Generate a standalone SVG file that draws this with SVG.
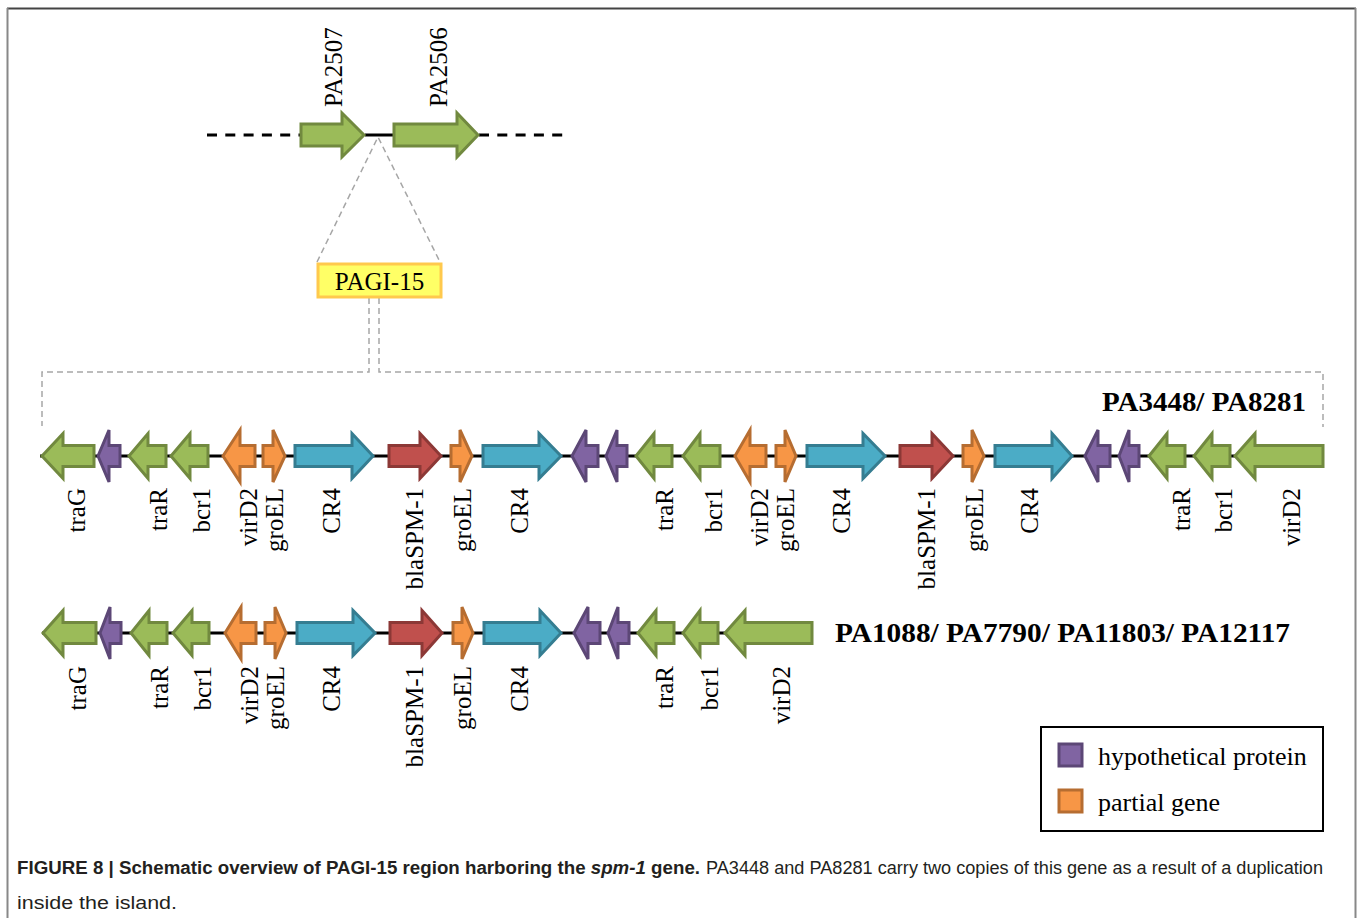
<svg xmlns="http://www.w3.org/2000/svg" width="1358" height="918" viewBox="0 0 1358 918">
<style>
.g{fill:#9BBB59;stroke:#71893F;stroke-width:3;stroke-linejoin:miter}
.p{fill:#8064A2;stroke:#5C4776;stroke-width:3}
.o{fill:#F79646;stroke:#B66D31;stroke-width:3}
.t{fill:#4BACC6;stroke:#357D91;stroke-width:3}
.r{fill:#C0504D;stroke:#8C3836;stroke-width:3}
.lab{font-family:"Liberation Serif","Times New Roman",serif;font-size:25px;fill:#000}
.leg{font-family:"Liberation Serif","Times New Roman",serif;font-size:26px;fill:#000}
.ttl{font-family:"Liberation Serif","Times New Roman",serif;font-size:28px;font-weight:bold;fill:#000}
.bb{stroke:#000;stroke-width:3;fill:none}
.gd{stroke:#A6A6A6;stroke-width:1.5;fill:none;stroke-dasharray:6 4}
.cap{font-family:"Liberation Sans",Arial,sans-serif;font-size:17.5px;fill:#231F20}
</style>
<rect width="1358" height="918" fill="#fff"/>
<g id="frame">
<line x1="7" y1="8.5" x2="1356" y2="8.5" stroke="#444" stroke-width="2"/>
<line x1="7.5" y1="8" x2="7.5" y2="918" stroke="#888" stroke-width="2"/>
<line x1="1355.5" y1="8" x2="1355.5" y2="918" stroke="#888" stroke-width="2"/>
</g>
<g id="connectors">
<line x1="207" y1="135" x2="300" y2="135" class="bb" stroke-dasharray="10 8.3"/>
<line x1="365" y1="135" x2="393" y2="135" class="bb"/>
<line x1="479" y1="135" x2="563" y2="135" class="bb" stroke-dasharray="10 8.3"/>
<polyline class="gd" points="317,262 378,137 440,262"/>
<polyline class="gd" points="369,298 369,372 42,372 42,426"/>
<polyline class="gd" points="379,298 379,372 1323,372 1323,427"/>
<line x1="40" y1="456" x2="1324" y2="456" class="bb"/>
<line x1="42" y1="633" x2="812" y2="633" class="bb"/>
</g>
<g id="top-genes">
<g id="PA2507"><polygon class="g" points="301,124 342,124 342,113 364,135 342,157 342,146 301,146"/>
<text class="lab" transform="translate(342,107) rotate(-90)">PA2507</text></g>
<g id="PA2506"><polygon class="g" points="394,124 457,124 457,113 478,135 457,157 457,146 394,146"/>
<text class="lab" transform="translate(447,107) rotate(-90)">PA2506</text></g>
</g>
<g id="PAGI-15">
<rect x="318" y="264" width="123" height="33" fill="#FFFF66" stroke="#FFC94D" stroke-width="3"/>
<text x="379.5" y="290" text-anchor="middle" class="lab">PAGI-15</text>
</g>
<g id="row1">
<text class="ttl" x="1102" y="411" textLength="204" lengthAdjust="spacingAndGlyphs">PA3448/ PA8281</text>
<g id="r1-traG"><polygon class="g" points="42,456 63,433.5 63,445.5 94,445.5 94,466.5 63,466.5 63,478.5"/><text class="lab" text-anchor="end" transform="translate(85,488) rotate(-90)">traG</text></g>
<g id="r1-hyp1"><polygon class="p" points="98,456 109,430 109,445.5 120,445.5 120,466.5 109,466.5 109,482"/></g>
<g id="r1-traR"><polygon class="g" points="129,456 148,433.5 148,445.5 166,445.5 166,466.5 148,466.5 148,478.5"/><text class="lab" text-anchor="end" transform="translate(167,488) rotate(-90)">traR</text></g>
<g id="r1-bcr1"><polygon class="g" points="171,456 190,433.5 190,445.5 208,445.5 208,466.5 190,466.5 190,478.5"/><text class="lab" text-anchor="end" transform="translate(210,488) rotate(-90)">bcr1</text></g>
<g id="r1-virD2"><polygon class="o" points="223,456 240,430 240,445.5 255,445.5 255,466.5 240,466.5 240,482"/><text class="lab" text-anchor="end" transform="translate(257,488) rotate(-90)">virD2</text></g>
<g id="r1-groEL"><polygon class="o" points="263,445.5 273,445.5 273,430 285,456 273,482 273,466.5 263,466.5"/><text class="lab" text-anchor="end" transform="translate(283,488) rotate(-90)">groEL</text></g>
<g id="r1-CR4"><polygon class="t" points="295,445.5 352,445.5 352,433.5 373,456 352,478.5 352,466.5 295,466.5"/><text class="lab" text-anchor="end" transform="translate(340,488) rotate(-90)">CR4</text></g>
<g id="r1-blaSPM-1"><polygon class="r" points="389,445.5 420,445.5 420,433.5 441,456 420,478.5 420,466.5 389,466.5"/><text class="lab" text-anchor="end" transform="translate(423,488) rotate(-90)">blaSPM-1</text></g>
<g id="r1-groEL2"><polygon class="o" points="451,445.5 460,445.5 460,430 472,456 460,482 460,466.5 451,466.5"/><text class="lab" text-anchor="end" transform="translate(471,488) rotate(-90)">groEL</text></g>
<g id="r1-CR4b"><polygon class="t" points="483,445.5 539,445.5 539,433.5 561,456 539,478.5 539,466.5 483,466.5"/><text class="lab" text-anchor="end" transform="translate(528,488) rotate(-90)">CR4</text></g>
<g id="r1-hyp2"><polygon class="p" points="572,456 586,430 586,445.5 598,445.5 598,466.5 586,466.5 586,482"/></g>
<g id="r1-hyp3"><polygon class="p" points="606,456 617,430 617,445.5 627,445.5 627,466.5 617,466.5 617,482"/></g>
<g id="r1-traR2"><polygon class="g" points="636,456 654,433.5 654,445.5 672,445.5 672,466.5 654,466.5 654,478.5"/><text class="lab" text-anchor="end" transform="translate(673,488) rotate(-90)">traR</text></g>
<g id="r1-bcr1b"><polygon class="g" points="683,456 700,433.5 700,445.5 720,445.5 720,466.5 700,466.5 700,478.5"/><text class="lab" text-anchor="end" transform="translate(722,488) rotate(-90)">bcr1</text></g>
<g id="r1-virD2b"><polygon class="o" points="735,456 750,430 750,445.5 766,445.5 766,466.5 750,466.5 750,482"/><text class="lab" text-anchor="end" transform="translate(768,488) rotate(-90)">virD2</text></g>
<g id="r1-groEL3"><polygon class="o" points="776,445.5 785,445.5 785,430 796,456 785,482 785,466.5 776,466.5"/><text class="lab" text-anchor="end" transform="translate(794,488) rotate(-90)">groEL</text></g>
<g id="r1-CR4c"><polygon class="t" points="807,445.5 863,445.5 863,433.5 885,456 863,478.5 863,466.5 807,466.5"/><text class="lab" text-anchor="end" transform="translate(850,488) rotate(-90)">CR4</text></g>
<g id="r1-blaSPM-1b"><polygon class="r" points="900,445.5 932,445.5 932,433.5 953,456 932,478.5 932,466.5 900,466.5"/><text class="lab" text-anchor="end" transform="translate(935,488) rotate(-90)">blaSPM-1</text></g>
<g id="r1-groEL4"><polygon class="o" points="963,445.5 972,445.5 972,430 984,456 972,482 972,466.5 963,466.5"/><text class="lab" text-anchor="end" transform="translate(983,488) rotate(-90)">groEL</text></g>
<g id="r1-CR4d"><polygon class="t" points="995,445.5 1052,445.5 1052,433.5 1072,456 1052,478.5 1052,466.5 995,466.5"/><text class="lab" text-anchor="end" transform="translate(1038,488) rotate(-90)">CR4</text></g>
<g id="r1-hyp4"><polygon class="p" points="1085,456 1098,430 1098,445.5 1110,445.5 1110,466.5 1098,466.5 1098,482"/></g>
<g id="r1-hyp5"><polygon class="p" points="1119,456 1129,430 1129,445.5 1139,445.5 1139,466.5 1129,466.5 1129,482"/></g>
<g id="r1-traR3"><polygon class="g" points="1149,456 1167,433.5 1167,445.5 1185,445.5 1185,466.5 1167,466.5 1167,478.5"/><text class="lab" text-anchor="end" transform="translate(1190,488) rotate(-90)">traR</text></g>
<g id="r1-bcr1c"><polygon class="g" points="1194,456 1212,433.5 1212,445.5 1230,445.5 1230,466.5 1212,466.5 1212,478.5"/><text class="lab" text-anchor="end" transform="translate(1232,488) rotate(-90)">bcr1</text></g>
<g id="r1-virD2c"><polygon class="g" points="1235,456 1255,433.5 1255,445.5 1323,445.5 1323,466.5 1255,466.5 1255,478.5"/><text class="lab" text-anchor="end" transform="translate(1300,488) rotate(-90)">virD2</text></g>
</g>
<g id="row2">
<text class="ttl" x="835" y="642" textLength="455" lengthAdjust="spacingAndGlyphs">PA1088/ PA7790/ PA11803/ PA12117</text>
<g id="r2-traG"><polygon class="g" points="43,633 63,610.5 63,622.5 96,622.5 96,643.5 63,643.5 63,655.5"/><text class="lab" text-anchor="end" transform="translate(86,666) rotate(-90)">traG</text></g>
<g id="r2-hyp1"><polygon class="p" points="100,633 110,607 110,622.5 121,622.5 121,643.5 110,643.5 110,659"/></g>
<g id="r2-traR"><polygon class="g" points="131,633 149,610.5 149,622.5 167,622.5 167,643.5 149,643.5 149,655.5"/><text class="lab" text-anchor="end" transform="translate(168,666) rotate(-90)">traR</text></g>
<g id="r2-bcr1"><polygon class="g" points="173,633 192,610.5 192,622.5 209,622.5 209,643.5 192,643.5 192,655.5"/><text class="lab" text-anchor="end" transform="translate(211,666) rotate(-90)">bcr1</text></g>
<g id="r2-virD2"><polygon class="o" points="225,633 241,607 241,622.5 256,622.5 256,643.5 241,643.5 241,659"/><text class="lab" text-anchor="end" transform="translate(258,666) rotate(-90)">virD2</text></g>
<g id="r2-groEL"><polygon class="o" points="265,622.5 275,622.5 275,607 286,633 275,659 275,643.5 265,643.5"/><text class="lab" text-anchor="end" transform="translate(284,666) rotate(-90)">groEL</text></g>
<g id="r2-CR4"><polygon class="t" points="297,622.5 353,622.5 353,610.5 375,633 353,655.5 353,643.5 297,643.5"/><text class="lab" text-anchor="end" transform="translate(340,666) rotate(-90)">CR4</text></g>
<g id="r2-blaSPM-1"><polygon class="r" points="390,622.5 422,622.5 422,610.5 442,633 422,655.5 422,643.5 390,643.5"/><text class="lab" text-anchor="end" transform="translate(423,666) rotate(-90)">blaSPM-1</text></g>
<g id="r2-groEL2"><polygon class="o" points="453,622.5 462,622.5 462,607 473,633 462,659 462,643.5 453,643.5"/><text class="lab" text-anchor="end" transform="translate(471,666) rotate(-90)">groEL</text></g>
<g id="r2-CR4b"><polygon class="t" points="484,622.5 540,622.5 540,610.5 561,633 540,655.5 540,643.5 484,643.5"/><text class="lab" text-anchor="end" transform="translate(528,666) rotate(-90)">CR4</text></g>
<g id="r2-hyp2"><polygon class="p" points="574,633 588,607 588,622.5 600,622.5 600,643.5 588,643.5 588,659"/></g>
<g id="r2-hyp3"><polygon class="p" points="608,633 618,607 618,622.5 629,622.5 629,643.5 618,643.5 618,659"/></g>
<g id="r2-traR2"><polygon class="g" points="638,633 656,610.5 656,622.5 674,622.5 674,643.5 656,643.5 656,655.5"/><text class="lab" text-anchor="end" transform="translate(673,666) rotate(-90)">traR</text></g>
<g id="r2-bcr1b"><polygon class="g" points="683,633 700,610.5 700,622.5 718,622.5 718,643.5 700,643.5 700,655.5"/><text class="lab" text-anchor="end" transform="translate(718,666) rotate(-90)">bcr1</text></g>
<g id="r2-virD2b"><polygon class="g" points="725,633 745,610.5 745,622.5 812,622.5 812,643.5 745,643.5 745,655.5"/><text class="lab" text-anchor="end" transform="translate(790,666) rotate(-90)">virD2</text></g>
</g>
<g id="legend">
<rect x="1041" y="727" width="282" height="104" fill="#fff" stroke="#000" stroke-width="2"/>
<rect x="1059" y="744" width="23" height="22" class="p"/>
<text x="1098" y="765" class="leg">hypothetical protein</text>
<rect x="1059" y="790" width="23" height="22" class="o"/>
<text x="1098" y="811" class="leg">partial gene</text>
</g>
<g id="caption">
<text class="cap" x="17" y="874" font-weight="bold" textLength="683" lengthAdjust="spacingAndGlyphs">FIGURE 8 | Schematic overview of PAGI-15 region harboring the <tspan font-style="italic">spm-1</tspan> gene.</text>
<text class="cap" x="706" y="874" textLength="617" lengthAdjust="spacingAndGlyphs">PA3448 and PA8281 carry two copies of this gene as a result of a duplication</text>
<text class="cap" x="17" y="909" textLength="160" lengthAdjust="spacingAndGlyphs">inside the island.</text>
</g>
</svg>
